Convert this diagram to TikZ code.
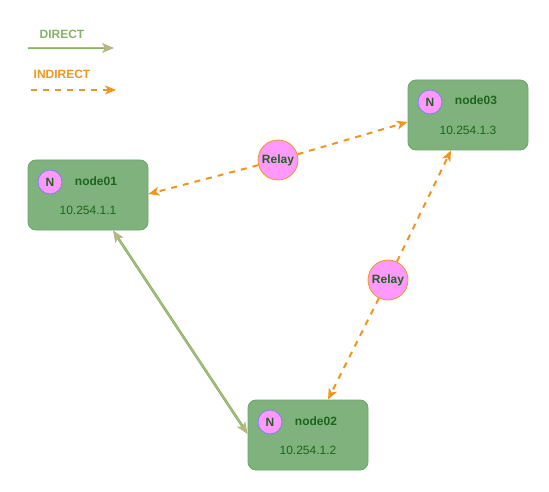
\documentclass[tikz,border=0pt]{standalone}
\usepackage{fontspec}
\setmainfont{Liberation Sans}
\usetikzlibrary{arrows.meta,calc}
\definecolor{boxfill}{HTML}{80B27E}
\definecolor{boxline}{HTML}{6AA466}
\definecolor{txtgreen}{HTML}{1E641C}
\definecolor{pinkfill}{HTML}{FF99FF}
\definecolor{nline}{HTML}{8080F0}
\definecolor{orng}{HTML}{F0961E}
\definecolor{legreen}{HTML}{82B366}
\definecolor{khaki}{HTML}{B4B883}
\tikzset{
  hostbox/.style={draw=boxline, fill=boxfill, rounded corners=8pt, minimum width=120pt, minimum height=70pt, line width=0.8pt, inner sep=0pt},
  badge/.style={circle, draw=nline, fill=pinkfill, minimum size=24pt, inner sep=0pt, line width=0.8pt, font=\fontsize{12}{14}\selectfont\bfseries, text=txtgreen},
  relay/.style={circle, draw=orng, fill=pinkfill, minimum size=40pt, inner sep=0pt, line width=0.8pt, font=\fontsize{12}{14}\selectfont\bfseries, text=txtgreen},
  hname/.style={font=\fontsize{12}{14}\selectfont\bfseries, text=txtgreen, inner sep=0pt},
  hip/.style={font=\fontsize{12}{14}\selectfont, text=txtgreen, inner sep=0pt},
  indirect/.style={draw=orng, line width=2pt, dash pattern=on 6pt off 6pt, -{Stealth[length=11pt,width=9pt,inset=3pt]}, shorten <=0pt},
  direct/.style={draw=legreen, double=khaki, double distance=1pt, line width=0.8pt, {Stealth[length=12pt,width=10pt,inset=3pt,fill=khaki,color=khaki]}-{Stealth[length=12pt,width=10pt,inset=3pt,fill=khaki,color=khaki]}},
  legtxt/.style={font=\fontsize{12}{14}\selectfont\bfseries, inner sep=0pt}
}
\begin{document}
\begin{tikzpicture}[x=1pt,y=-1pt]
\useasboundingbox (0,0) rectangle (549,492);
% legend
\node[legtxt, text=legreen] (ldir) at (62,34) {DIRECT};
\coordinate (ld1) at (28,48);
\coordinate (ld2) at (114,48);
\draw[draw=legreen, double=khaki, double distance=1pt, line width=0.8pt, -{Stealth[length=12pt,width=10pt,inset=3pt,fill=khaki,color=khaki]}] (ld1) -- (ld2);
\node[legtxt, text=orng] (lind) at (62,74) {INDIRECT};
\coordinate (li1) at (31,90);
\coordinate (li2) at (116,90);
\draw[indirect] (li1) -- (li2);
% hosts
\node[hostbox] (n1) at (88,195) {};
\node[badge] (b1) at (50,182) {N};
\node[hname] (t1) at (96,181) {node01};
\node[hip] (i1) at (88,210) {10.254.1.1};
\node[hostbox] (n2) at (308,435) {};
\node[badge] (b2) at (270,422) {N};
\node[hname] (t2) at (316,421) {node02};
\node[hip] (i2) at (308,450) {10.254.1.2};
\node[hostbox] (n3) at (468,115) {};
\node[badge] (b3) at (430,102) {N};
\node[hname] (t3) at (476,100) {node03};
\node[hip] (i3) at (468,130) {10.254.1.3};
% relays
\node[relay] (r1) at (278,160) {Relay};
\node[relay] (r2) at (388,280) {Relay};
% connectors
\draw[indirect] (r1) -- ([yshift=1pt]n1.east);
\draw[indirect] (r1) -- ([yshift=-7pt]n3.west);
\draw[indirect] (r2) -- ([xshift=-17pt]n3.south);
\draw[indirect] (r2) -- ([xshift=20pt]n2.north);
\draw[direct] ([xshift=25pt]n1.south) -- ([yshift=1pt]n2.west);
\end{tikzpicture}
\end{document}
